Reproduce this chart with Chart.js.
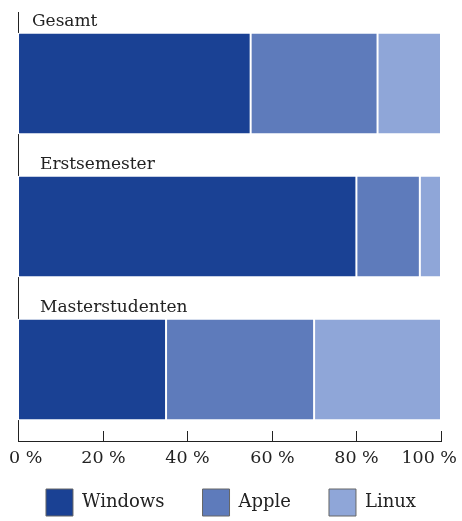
<!DOCTYPE html>
<html>
<head>
<meta charset="utf-8">
<script src="https://cdn.jsdelivr.net/npm/chart.js@4/dist/chart.umd.min.js"></script>
<style>
  html, body { margin: 0; padding: 0; background: #fff; }
  #wrap { width: 462px; height: 521px; }
</style>
</head>
<body>
<div id="wrap"><canvas id="myChart"></canvas></div>
<script>
const groups = ['Gesamt', 'Erstsemester', 'Masterstudenten'];
const windows = [55, 80, 35];
const apple = [30, 15, 35];
const linux = [15, 5, 30];
const xTicks = [0, 20, 40, 60, 80, 100];

const font = '"DejaVu Serif", "Liberation Serif", serif';
const ink = '#222';

// category names above each bar, x ticks pointing up into the plot,
// tick labels kept inside the canvas, legend tucked under the axis
const overlay = {
    id: 'overlay',
    afterInit(chart) {
        const lg = chart.legend;
        const fit = lg.fit;
        lg.fit = function () {
            this.maxWidth = this.chart.width;
            fit.call(this);
            this.height = 50;
        };
    },
    afterLayout(chart) {
        const lg = chart.legend;
        lg.left = 0;
        lg.right = lg.width = chart.width;
        lg.top = chart.scales.x.top + 48 - lg.options.labels.padding;
        lg.bottom = chart.height;
        lg.height = lg.bottom - lg.top;
    },
    afterDatasetsDraw(chart) {
        const ctx = chart.ctx;
        const x = chart.scales.x;
        const y = chart.scales.y;
        const meta = chart.getDatasetMeta(0);
        const shift = [14, 22, 22];
        ctx.save();
        ctx.fillStyle = ink;
        ctx.font = '17px ' + font;
        ctx.textBaseline = 'alphabetic';
        groups.forEach((g, i) => {
            const bar = meta.data[i];
            const top = bar.y - bar.height / 2;
            ctx.fillText(g, x.left + shift[i], top - 7);
        });

        ctx.strokeStyle = ink;
        ctx.lineWidth = 1;
        ctx.font = '17.5px ' + font;
        ctx.textAlign = 'center';
        xTicks.forEach(v => {
            const px = Math.round(x.getPixelForValue(v)) + 0.5;
            ctx.beginPath();
            ctx.moveTo(px, y.bottom);
            ctx.lineTo(px, y.bottom - 10);
            ctx.stroke();
            const s = v + ' %';
            const w = ctx.measureText(s).width;
            const cx = Math.min(Math.max(px, w / 2 + 9), chart.width - w / 2 - 5);
            ctx.fillText(s, cx, x.top + 22);
        });
        ctx.restore();
    }
};

const ctx = document.getElementById('myChart').getContext('2d');
const myChart = new Chart(ctx, {
    type: 'bar',
    data: {
        labels: groups,
        datasets: [
            { label: 'Windows', data: windows, backgroundColor: '#1a4194' },
            { label: 'Apple', data: apple, backgroundColor: '#5e7bbb' },
            { label: 'Linux', data: linux, backgroundColor: '#8fa6d8' }
        ].map(d => Object.assign(d, {
            borderColor: '#ffffff',
            borderWidth: 1,
            borderSkipped: false,
            barPercentage: 0.71,
            categoryPercentage: 1
        }))
    },
    options: {
        indexAxis: 'y',
        responsive: true,
        maintainAspectRatio: false,
        animation: false,
        layout: { padding: { top: 12, right: 21, left: 18, bottom: 0 } },
        scales: {
            x: {
                stacked: true,
                min: 0,
                max: 100,
                afterBuildTicks: (s) => { s.ticks = xTicks.map(v => ({ value: v })); },
                afterFit: (s) => { s.paddingLeft = 0; s.paddingRight = 0; s.height = 30; },
                grid: { display: false, drawTicks: false },
                border: { display: true, color: ink, width: 1 },
                ticks: { display: false }
            },
            y: {
                stacked: true,
                afterFit: (s) => { s.width = 0; },
                grid: { display: false, drawTicks: false },
                border: { display: true, color: ink, width: 1 },
                ticks: { display: false }
            }
        },
        plugins: {
            tooltip: { enabled: false },
            legend: {
                position: 'bottom',
                labels: {
                    boxWidth: 27,
                    boxHeight: 27,
                    padding: 38,
                    color: ink,
                    font: { family: font, size: 18 },
                    generateLabels: (chart) => chart.data.datasets.map((d, i) => ({
                        text: d.label,
                        fillStyle: d.backgroundColor,
                        strokeStyle: '#666',
                        lineWidth: 1,
                        fontColor: ink,
                        datasetIndex: i,
                        hidden: false
                    }))
                }
            }
        }
    },
    plugins: [overlay]
});
</script>
</body>
</html>
